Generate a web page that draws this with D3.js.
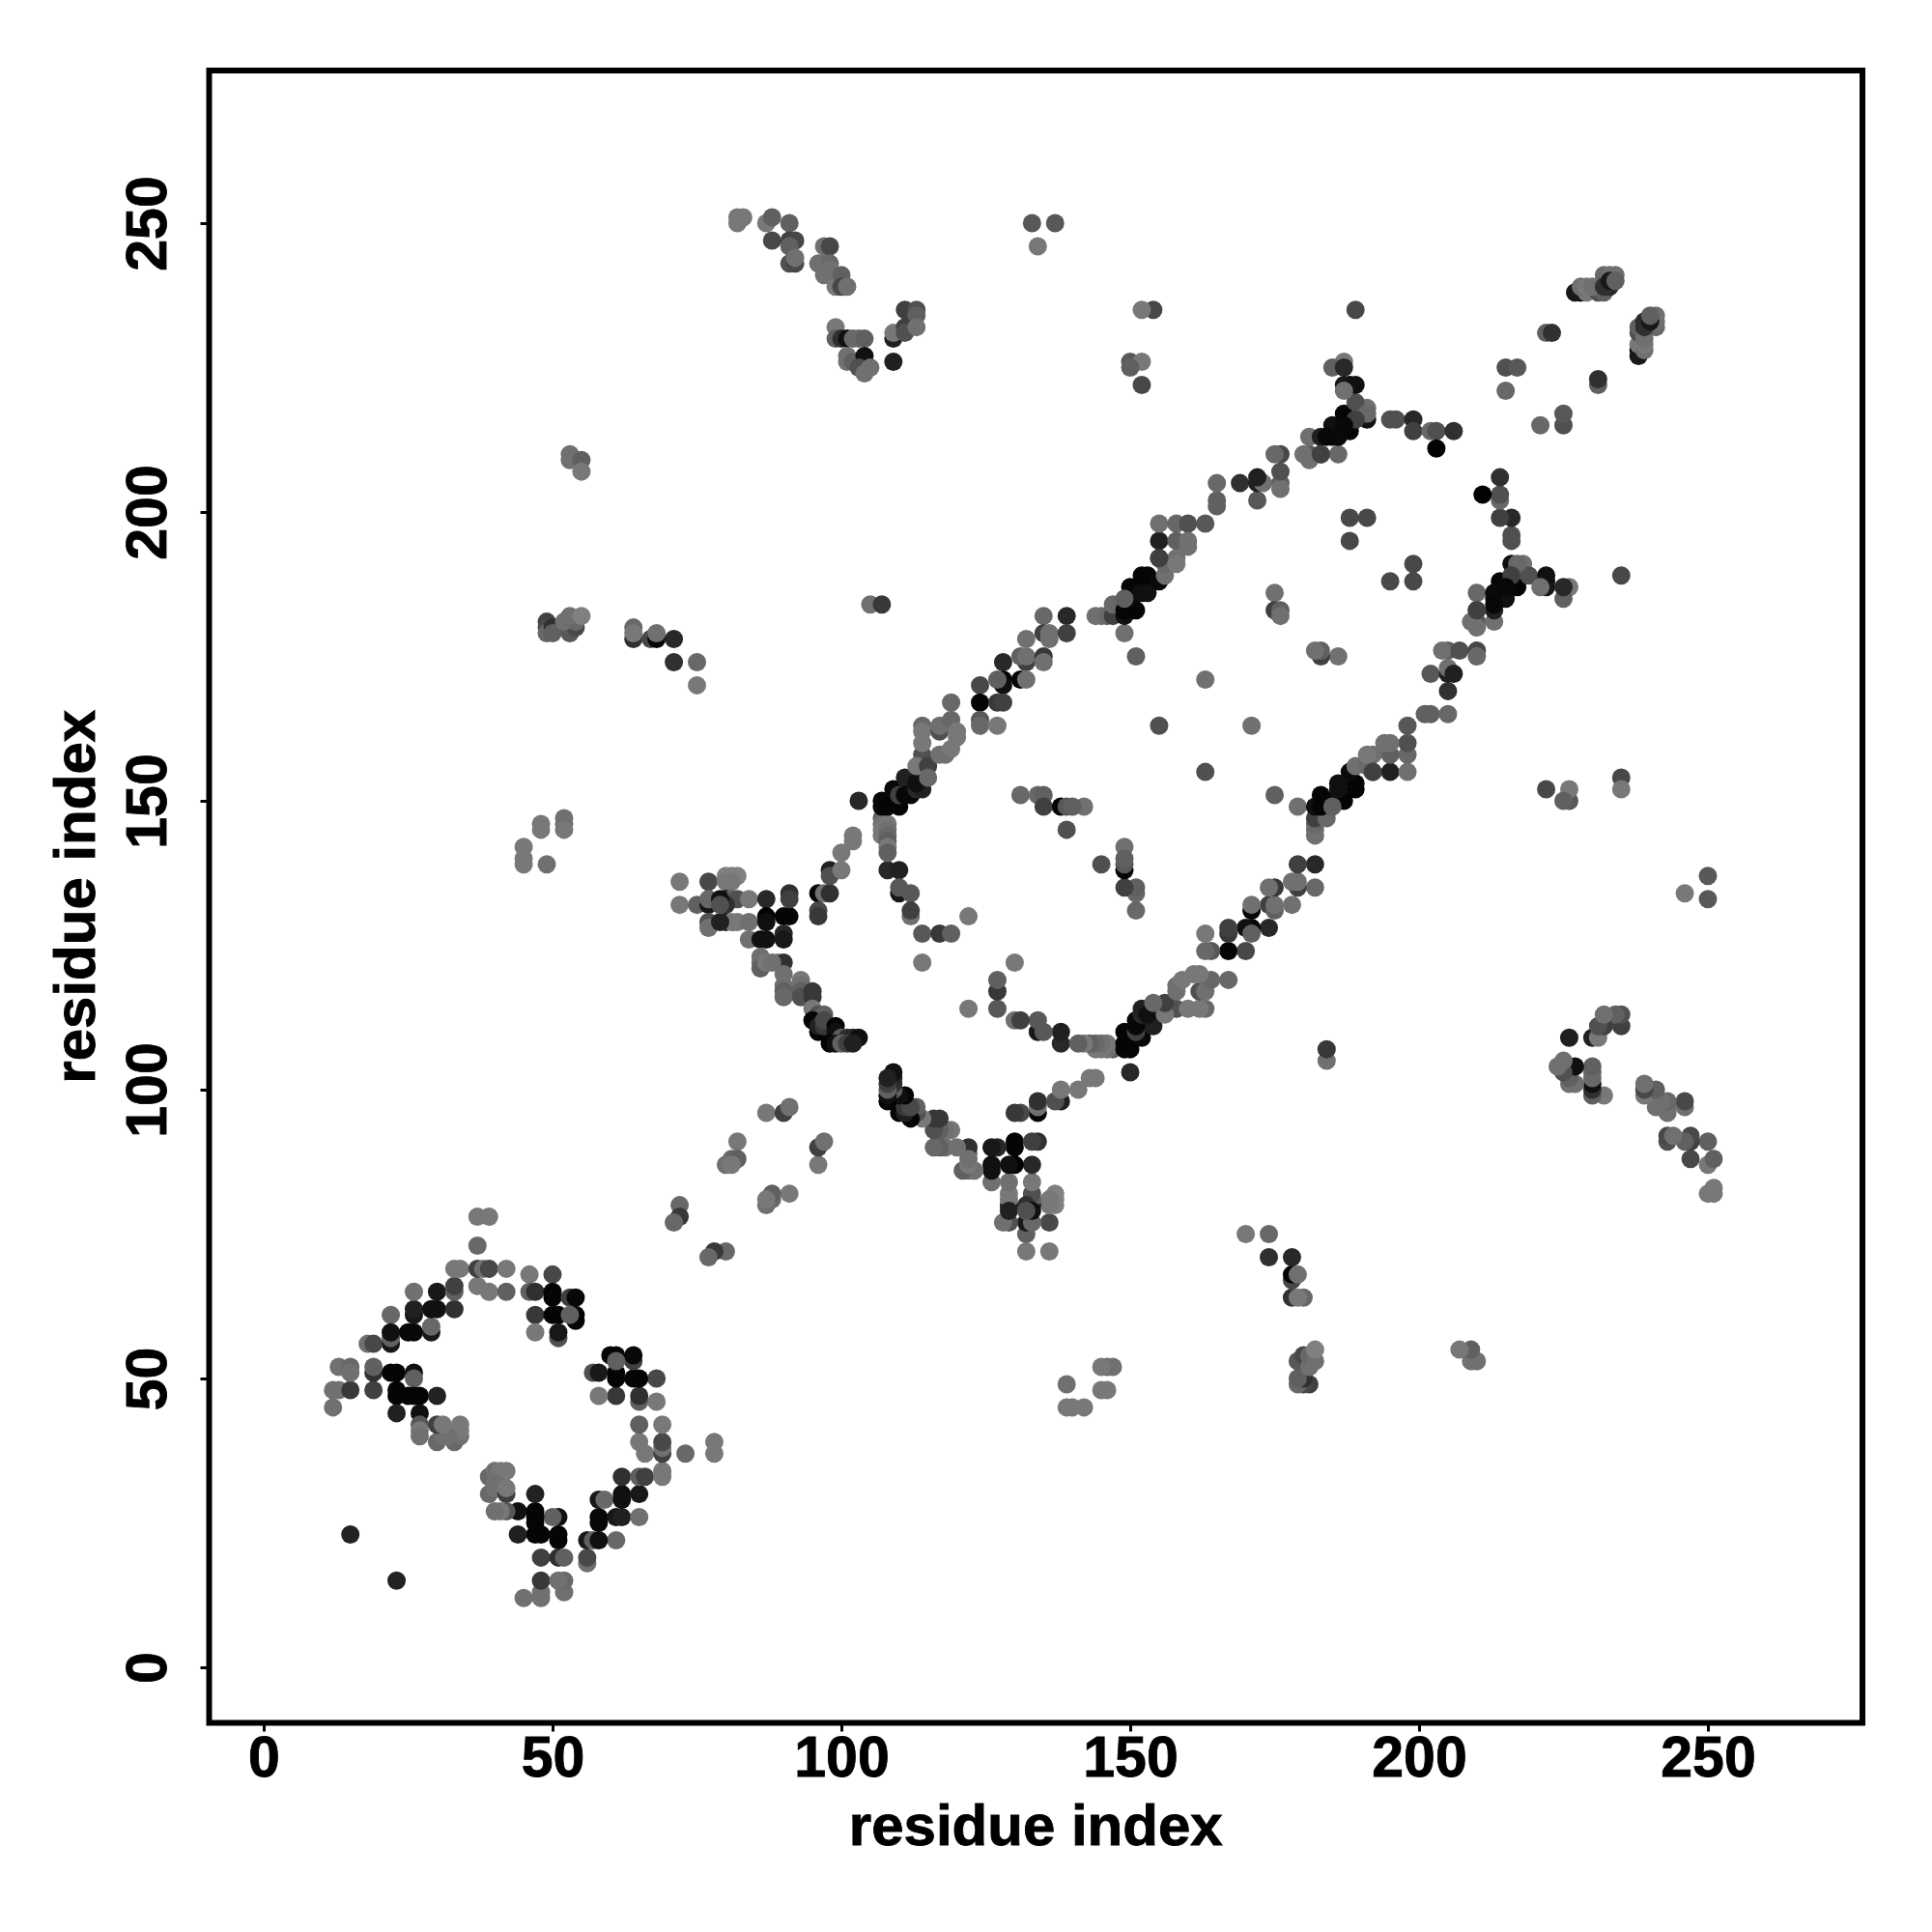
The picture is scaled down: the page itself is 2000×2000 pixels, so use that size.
<!DOCTYPE html>
<html><head><meta charset="utf-8">
<style>html,body{margin:0;padding:0;background:#fff}</style>
<script src="https://cdn.jsdelivr.net/npm/d3@7"></script>
</head><body>
<div id="chart"></div>
<script>
const tickValues = [0, 50, 100, 150, 200, 250];
const axisTitle = "residue index";
// each entry: residue a, residue b (a<b), grey level of the mark
const ringContacts = [
[15,23,0x22],[12,45,0x70],[12,48,0x70],[13,48,0x70],[15,48,0x38],[19,48,0x40],[13,52,0x70],[15,52,0x68],[15,51,0x70],[19,51,0x30],[19,52,0x60],
[22,51,0x05],[23,51,0x05],[26,51,0x10],[26,50,0x60],[23,48,0x05],[23,47,0x05],[23,44,0x20],[25,47,0x05],[26,47,0x05],[27,47,0x05],[30,47,0x22],
[27,44,0x10],[27,42,0x58],[27,41,0x78],[18,56,0x70],[19,56,0x48],[22,61,0x68],[22,56,0x18],[22,57,0x60],[22,58,0x10],[25,58,0x08],[26,58,0x08],
[29,58,0x18],[29,59,0x68],[26,61,0x18],[26,62,0x20],[26,65,0x70],[29,62,0x10],[30,62,0x10],[30,65,0x18],[33,62,0x30],[33,65,0x60],[33,66,0x40],
[33,69,0x78],[34,69,0x78],[37,66,0x78],[39,65,0x78],[42,65,0x60],[37,69,0x40],[38,69,0x70],[39,69,0x48],[42,69,0x78],[37,73,0x68],[37,78,0x78],[39,78,0x78],
[46,68,0x78],[50,68,0x48],[46,65,0x60],[47,65,0x30],[50,65,0x05],[50,64,0x05],[53,64,0x40],[54,64,0x08],[47,61,0x38],[50,61,0x05],[51,61,0x05],
[54,61,0x05],[54,60,0x05],[53,61,0x60],[47,58,0x78],[51,57,0x50],[51,58,0x18],[30,39,0x68],[33,39,0x68],[34,40,0x70],[34,41,0x78],[34,42,0x78],
[32,40,0x70],[31,40,0x70],[30,42,0x40],[31,42,0x78],[27,40,0x70]
];
const spikeContacts = [
[72,136,0x78],[72,132,0x78],[75,132,0x60],[77,136,0x48],[77,132,0x18],[77,133,0x68],[80,137,0x80],[81,137,0x80],[82,137,0x80],[81,136,0x78],[80,136,0x78],
[80,133,0x18],[81,133,0x60],[82,133,0x50],[84,133,0x78],[80,132,0x30],[77,129,0x50],[77,128,0x70],[80,129,0x20],[81,129,0x78],[82,129,0x78],[84,129,0x70],
[87,133,0x28],[87,130,0x02],[87,129,0x10],[90,130,0x05],[91,130,0x05],[91,134,0x30],[91,133,0x40],[84,126,0x70],[86,126,0x10],[87,126,0x10],[90,127,0x28],[90,126,0x18],
[86,123,0x70],[86,122,0x70],[86,121,0x60],[87,122,0x78],[89,122,0x78],[90,122,0x30],[90,120,0x70],[90,118,0x70],[90,117,0x60],[90,116,0x68],[93,119,0x78],[93,118,0x70],
[93,117,0x60],[93,116,0x50],[95,117,0x38],[95,116,0x38],[95,114,0x78],[96,113,0x50],[97,113,0x60],[95,112,0x05],[96,110,0x05],[96,111,0x20],[97,111,0x38],[97,112,0x48],
[99,111,0x05],[99,110,0x10],[98,108,0x05],[100,109,0x60],[101,109,0x30],[102,109,0x28],[103,109,0x10],[99,108,0x10],[100,108,0x60],[101,108,0x40],[102,108,0x20],
[88,122,0x70],[79,129,0x20],[79,133,0x10],[79,132,0x50],
[96,134,0x05],[97,134,0x70],[98,134,0x30],[96,131,0x48],[96,130,0x38],[98,138,0x20],[98,137,0x50],[100,138,0x78],[100,141,0x78],[102,144,0x78],[102,143,0x78],[103,150,0x28],
[108,138,0x28],[110,138,0x20],[110,134,0x18],[110,135,0x58],[112,134,0x58],[112,130,0x70],[112,131,0x40],[114,127,0x58],[117,127,0x38],[119,127,0x60],[122,130,0x78],[114,122,0x78],
[139,145,0x50],[87,96,0x78],[90,96,0x40],[91,97,0x70],[82,91,0x78],[81,88,0x68],[82,88,0x60],[80,87,0x70],[81,87,0x78],[72,80,0x68],[72,78,0x38],[71,77,0x68]
];
const strandContacts = [
[107,147,0x60],[107,146,0x70],[107,145,0x78],[107,144,0x78],[108,146,0x78],[108,145,0x70],[108,144,0x68],[108,143,0x60],[108,142,0x78],[108,141,0x60],
[107,150,0x05],[107,149,0x08],[108,149,0x05],[109,152,0x08],[110,149,0x05],[110,151,0x40],[111,154,0x20],[111,151,0x08],[112,151,0x08],[113,152,0x28],[114,152,0x20],[113,153,0x10],
[114,157,0x10],[114,158,0x50],[113,156,0x78],[115,156,0x40],[115,154,0x68],[114,160,0x78],[114,163,0x68],[114,162,0x78],[117,158,0x70],[117,162,0x50],[117,163,0x70],[118,158,0x70],
[119,159,0x78],[119,164,0x68],[120,162,0x78],[120,161,0x78],[119,167,0x68],
[124,170,0x48],[128,174,0x28],[128,171,0x05],[128,170,0x10],[127,171,0x60],[124,167,0x05],[124,164,0x58],[124,163,0x68],[127,163,0x78],[127,167,0x38],[128,167,0x40],
[131,171,0x05],[132,174,0x40],[131,175,0x60],[132,175,0x70],[132,171,0x70],[132,178,0x70],[135,182,0x68],[135,179,0x40],[136,179,0x70],[136,178,0x70],[135,175,0x38],[135,174,0x70],[139,182,0x28],[139,179,0x40],
[144,182,0x70],[145,182,0x70],[146,182,0x68],[147,182,0x40],[147,184,0x68],[149,179,0x70],[149,182,0x10],[151,175,0x60],[149,183,0x05],[150,187,0x05],[151,183,0x05],[150,185,0x08],
[152,186,0x10],[153,186,0x10],[152,189,0x05],[153,189,0x05],[155,188,0x0a],[156,189,0x70],[155,192,0x48],[155,195,0x20],[155,198,0x70],[158,198,0x68],[160,198,0x50],[163,198,0x58],
[158,195,0x60],[160,195,0x70],[160,194,0x70],[158,192,0x70],[156,191,0x68],[165,202,0x60],[165,201,0x60],[172,202,0x58],[165,205,0x68],[169,205,0x30],[172,205,0x20],[173,205,0x70],[176,205,0x60],
[149,185,0x60],[155,192,0x40],[158,191,0x78],[172,206,0x20],[176,204,0x70],[176,207,0x50],[176,210,0x48],[175,210,0x68],[183,210,0x48],[181,210,0x58],[181,209,0x70],[180,210,0x70],
[181,213,0x70],[186,210,0x68],[183,213,0x20],[185,213,0x10],[188,214,0x05],[185,215,0x10],[187,217,0x05],[191,216,0x10],[191,218,0x70],[189,219,0x50],[188,222,0x05],
[187,226,0x78],[185,225,0x60],[187,225,0x28],[187,222,0x18],[189,222,0x10],[187,221,0x70],[191,217,0x68],[189,216,0x40],[186,213,0x0a],[184,213,0x08],[187,215,0x08],[183,210,0x40],
[195,216,0x50],[196,216,0x50],[199,216,0x28],[199,214,0x40],[202,214,0x68],[203,214,0x50],[206,214,0x30],[203,211,0x02],[215,221,0x68],[215,225,0x50],[217,225,0x58],[222,231,0x60],[223,231,0x30]
];
const remoteContacts = [
[188,199,0x48],[191,199,0x48],[188,195,0x48],[175,186,0x70],[175,183,0x40],[176,183,0x60],[176,182,0x70],[163,171,0x70],[155,163,0x50],[131,151,0x68],[134,151,0x68],[135,151,0x60],
[135,149,0x40],[138,149,0x05],[139,149,0x58],[142,149,0x70],[140,149,0x60],[105,184,0x70],[107,184,0x38],
[228,238,0x08],[227,238,0x18],[229,238,0x78],[228,239,0x70],[231,238,0x50],[232,238,0x60],[233,239,0x28],[232,241,0x68],[233,241,0x70],[234,241,0x70],[229,239,0x78],[231,239,0x60],[230,239,0x70],[232,239,0x30],[233,240,0x18],[234,240,0x60],
[82,251,0x78],[83,251,0x78],[82,250,0x78],[87,250,0x78],[88,251,0x60],[88,247,0x48],[91,250,0x60],[91,247,0x40],[92,247,0x48],[91,246,0x60],[91,243,0x50],[92,243,0x48],[92,244,0x70],
[97,246,0x70],[98,246,0x48],[96,243,0x70],[97,243,0x70],[98,243,0x68],[97,241,0x70],[98,242,0x70],[99,239,0x78],[100,241,0x60],[100,239,0x48],[101,239,0x70],
[99,232,0x78],[99,230,0x60],[100,230,0x30],[101,230,0x10],[102,230,0x68],[103,230,0x68],[104,230,0x60],[101,227,0x70],[101,226,0x70],[102,226,0x60],[104,227,0x10],[103,225,0x50],[105,225,0x70],[104,224,0x70],
[109,226,0x20],[109,230,0x20],[109,231,0x78],[111,235,0x40],[113,235,0x50],[113,234,0x60],[111,232,0x40],[111,231,0x50],[113,232,0x70],
[53,210,0x70],[53,209,0x70],[55,209,0x60],[55,207,0x78],[49,181,0x40],[49,180,0x48],[49,179,0x68],[50,180,0x30],[50,179,0x60],[53,180,0x18],[53,179,0x58],[54,180,0x48],[52,181,0x70],[54,181,0x68],[53,182,0x70],[55,182,0x80],
[64,178,0x30],[64,180,0x68],[64,179,0x78],[67,178,0x48],[68,178,0x05],[68,179,0x70],[71,178,0x28],[71,174,0x30],[75,174,0x68],[75,170,0x78],
[48,146,0x78],[48,145,0x78],[52,146,0x68],[52,147,0x70],[52,145,0x78],[45,142,0x78],[45,140,0x78],[45,139,0x78],[49,139,0x70],
[152,222,0x48],[150,226,0x58],[152,226,0x78],[150,225,0x60],[154,235,0x48],[152,235,0x78],[189,235,0x48],[133,250,0x58],[137,250,0x58],[134,246,0x78]
];
const contacts = [...ringContacts, ...spikeContacts, ...strandContacts, ...remoteContacts];

const width = 2000, height = 2000;
const frame = {left:216.5, right:1928, top:73, bottom:1783.5};
const x = d3.scaleLinear().domain([0,250]).range([273,1768]);
const y = d3.scaleLinear().domain([0,250]).range([1726,231]);
const grey = d3.scaleLinear().domain([0,255]).range(["#000000","#ffffff"]);
const font = "'Liberation Sans', Arial, sans-serif";

const svg = d3.select("#chart").append("svg").attr("width",width).attr("height",height)
  .style("display","block").style("background","#fff");

const marks = contacts.flatMap(c => [[c[0],c[1],c[2]],[c[1],c[0],c[2]]]);
svg.append("g").selectAll("circle").data(marks).join("circle")
  .attr("cx",d=>x(d[0])).attr("cy",d=>y(d[1])).attr("r",9.5)
  .attr("fill",d=>grey(d[2]));

const xAxis = svg.append("g").attr("transform",`translate(0,${frame.bottom})`)
  .call(d3.axisBottom(x).tickValues(tickValues).tickSize(9).tickPadding(12).tickFormat(d3.format("d")));
const yAxis = svg.append("g").attr("transform",`translate(${frame.left},0)`)
  .call(d3.axisLeft(y).tickValues(tickValues).tickSize(9).tickFormat(d3.format("d")));
[xAxis,yAxis].forEach(a=>{
  a.select(".domain").remove();
  a.selectAll("line").attr("stroke","#000").attr("stroke-width",3);
  a.selectAll("text").attr("font-family",font).attr("font-weight","bold").attr("font-size",59)
    .attr("fill","#000").attr("stroke","#000").attr("stroke-width",0.9);
});
xAxis.selectAll("text").attr("y",0).attr("dy",null).attr("text-anchor","middle").attr("dominant-baseline","auto")
  .attr("transform","translate(0,55)");
yAxis.selectAll("text").attr("x",null).attr("dy",null).attr("text-anchor","middle")
  .attr("transform","translate(-66,0) rotate(-90) translate(0,21)");

svg.append("rect").attr("x",frame.left).attr("y",frame.top)
  .attr("width",frame.right-frame.left).attr("height",frame.bottom-frame.top)
  .attr("fill","none").attr("stroke","#000").attr("stroke-width",6);

svg.append("text").attr("x",(frame.left+frame.right)/2).attr("y",1910)
  .attr("text-anchor","middle").attr("font-family",font).attr("font-weight","bold").attr("font-size",60)
  .attr("stroke","#000").attr("stroke-width",0.9).text(axisTitle);
svg.append("text").attr("transform",`translate(98,${(frame.top+frame.bottom)/2}) rotate(-90)`)
  .attr("text-anchor","middle").attr("font-family",font).attr("font-weight","bold").attr("font-size",60)
  .attr("stroke","#000").attr("stroke-width",0.9).text(axisTitle);
</script>
</body></html>
